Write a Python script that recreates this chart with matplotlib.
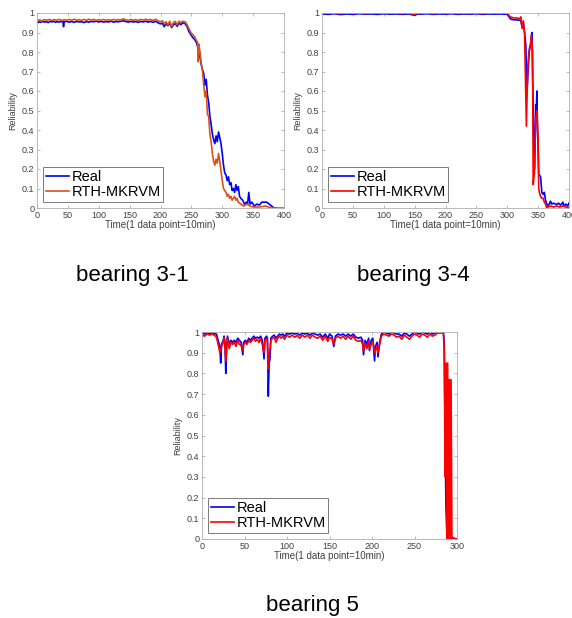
import numpy as np
import matplotlib
matplotlib.use('Agg')
import matplotlib.pyplot as plt

plt.rcParams['font.family'] = ['Liberation Sans', 'DejaVu Sans']

# bearing 3-1: (time, reliability)
real_31 = [(0,0.948),(3,0.955),(6,0.952),(9,0.957),(12,0.953),(15,0.956),(18,0.951),(21,0.957),(24,0.954),(27,0.958),
    (30,0.952),(33,0.956),(36,0.953),(39,0.957),(42,0.954),(43,0.93),(44,0.955),(48,0.957),(52,0.953),(56,0.956),
    (60,0.952),(64,0.957),(68,0.954),(72,0.955),(76,0.951),(80,0.956),(84,0.953),(88,0.957),(92,0.955),(96,0.958),
    (100,0.954),(104,0.957),(108,0.953),(112,0.956),(116,0.954),(120,0.958),(124,0.953),(128,0.956),(132,0.955),(136,0.958),
    (140,0.96),(144,0.956),(148,0.953),(152,0.957),(156,0.954),(160,0.956),(164,0.952),(168,0.957),(172,0.954),(176,0.958),
    (180,0.953),(184,0.957),(188,0.952),(192,0.958),(196,0.95),(200,0.944),(203,0.948),(206,0.93),(209,0.945),(212,0.935),
    (215,0.948),(218,0.925),(221,0.94),(224,0.946),(227,0.932),(230,0.948),(233,0.94),(236,0.95),(240,0.945),(243,0.93),
    (246,0.905),(249,0.89),(252,0.875),(255,0.865),(258,0.85),(261,0.82),(264,0.77),(267,0.72),(270,0.69),(272,0.63),
    (274,0.66),(276,0.58),(278,0.54),(280,0.47),(282,0.43),(284,0.38),(286,0.35),(288,0.33),(290,0.37),(292,0.34),
    (294,0.39),(296,0.36),(298,0.33),(300,0.28),(302,0.22),(304,0.18),(306,0.17),(308,0.14),(310,0.16),(312,0.12),
    (314,0.13),(316,0.09),(318,0.1),(320,0.08),(322,0.12),(324,0.09),(326,0.11),(328,0.06),(330,0.05),(333,0.04),
    (336,0.02),(339,0.03),(341,0.02),(343,0.08),(345,0.02),(348,0.03),(352,0.01),(356,0.02),(360,0.015),(364,0.03),
    (368,0.03),(372,0.03),(376,0.02),(380,0.01),(384,0.0),(388,0.0)]
pred_31 = [(0,0.962),(4,0.965),(8,0.96),(12,0.966),(16,0.963),(20,0.967),(24,0.962),(28,0.966),(32,0.963),(36,0.967),
    (40,0.962),(44,0.966),(48,0.963),(52,0.967),(56,0.962),(60,0.968),(64,0.963),(68,0.966),(72,0.962),(76,0.967),
    (80,0.963),(84,0.968),(88,0.964),(92,0.967),(96,0.962),(100,0.966),(104,0.963),(108,0.967),(112,0.962),(116,0.966),
    (120,0.963),(124,0.967),(128,0.963),(132,0.966),(136,0.964),(140,0.97),(144,0.965),(148,0.962),(152,0.967),(156,0.963),
    (160,0.966),(164,0.962),(168,0.967),(172,0.964),(176,0.968),(180,0.963),(184,0.967),(188,0.962),(192,0.968),(196,0.96),
    (200,0.955),(203,0.96),(206,0.945),(209,0.955),(212,0.94),(215,0.958),(218,0.93),(221,0.952),(224,0.957),(227,0.94),
    (230,0.958),(233,0.95),(236,0.958),(240,0.955),(243,0.94),(246,0.92),(249,0.9),(252,0.89),(255,0.88),(258,0.86),
    (260,0.85),(261,0.75),(262,0.84),(264,0.8),(266,0.74),(268,0.7),(270,0.63),(272,0.57),(274,0.6),(276,0.48),
    (278,0.47),(280,0.38),(282,0.34),(284,0.28),(286,0.24),(288,0.22),(290,0.25),(292,0.23),(294,0.28),(296,0.24),
    (298,0.19),(300,0.14),(302,0.1),(304,0.09),(306,0.08),(308,0.06),(310,0.07),(312,0.05),(314,0.06),(316,0.04),
    (318,0.05),(320,0.06),(322,0.04),(324,0.05),(326,0.03),(330,0.02),(335,0.01),(340,0.02),(345,0.01),(350,0.005),
    (360,0.005),(370,0.01),(380,0.0),(390,0.0),(400,0.0)]

# bearing 3-4
real_34 = [(0,0.995),(10,0.993),(20,0.996),(30,0.992),(40,0.995),(50,0.993),(60,0.996),(70,0.994),(80,0.995),(90,0.993),
    (100,0.996),(110,0.994),(120,0.995),(130,0.993),(140,0.995),(150,0.988),(155,0.995),(160,0.994),(170,0.996),(180,0.993),
    (190,0.995),(200,0.994),(210,0.996),(220,0.993),(230,0.995),(240,0.994),(250,0.996),(260,0.993),(270,0.995),(280,0.994),
    (290,0.995),(300,0.993),(302,0.985),(305,0.97),(310,0.965),(315,0.965),(320,0.963),(322,0.96),(324,0.93),(326,0.95),
    (328,0.9),(330,0.84),(332,0.6),(334,0.72),(336,0.82),(338,0.84),(340,0.9),(342,0.5),(344,0.2),(345,0.3),
    (346,0.53),(347,0.48),(348,0.6),(349,0.4),(350,0.3),(351,0.17),(352,0.17),(354,0.16),(356,0.08),(358,0.07),
    (360,0.08),(362,0.04),(364,0.02),(366,0.01),(368,0.02),(370,0.035),(372,0.02),(375,0.025),(378,0.02),(380,0.018),
    (383,0.025),(386,0.015),(388,0.02),(390,0.03),(392,0.01),(395,0.02),(398,0.01),(400,0.025)]
pred_34 = [(0,1.0),(10,0.998),(20,1.0),(30,0.997),(40,1.0),(50,0.998),(60,1.0),(70,0.997),(80,1.0),(90,0.998),
    (100,1.0),(110,0.998),(120,1.0),(130,0.997),(140,1.0),(150,0.992),(155,1.0),(160,0.998),(170,1.0),(180,0.997),
    (190,1.0),(200,0.998),(210,1.0),(220,0.997),(230,1.0),(240,0.998),(250,1.0),(260,0.997),(270,1.0),(280,0.998),
    (290,1.0),(300,0.998),(302,0.99),(305,0.98),(310,0.975),(315,0.975),(320,0.97),(322,0.98),(324,0.92),(326,0.96),
    (328,0.9),(331,0.42),(333,0.7),(335,0.8),(337,0.82),(339,0.89),(341,0.8),(342,0.12),(344,0.18),(346,0.45),
    (348,0.5),(350,0.35),(351,0.1),(352,0.08),(354,0.06),(356,0.05),(358,0.05),(360,0.03),(362,0.02),(364,0.0),
    (366,0.005),(370,0.01),(375,0.005),(380,0.01),(385,0.005),(390,0.01),(395,0.005),(400,0.0)]

# bearing 5
real_5 = [(0,0.995),(3,0.99),(6,0.997),(9,0.993),(12,0.996),(15,0.992),(17,0.99),(19,0.96),(21,0.93),(22,0.85),
    (23,0.94),(25,0.96),(26,0.98),(27,0.95),(28,0.8),(29,0.93),(30,0.98),(32,0.94),(34,0.96),(36,0.95),
    (38,0.96),(40,0.95),(42,0.97),(44,0.96),(46,0.95),(48,0.89),(49,0.95),(51,0.96),(53,0.95),(55,0.97),
    (57,0.96),(59,0.97),(61,0.98),(63,0.97),(65,0.975),(67,0.97),(69,0.98),(71,0.96),(73,0.87),(74,0.97),
    (76,0.98),(77,0.97),(78,0.69),(79,0.85),(80,0.87),(81,0.97),(83,0.98),(85,0.985),(87,0.97),(89,0.98),
    (91,0.99),(93,0.985),(95,0.99),(97,0.98),(100,0.995),(103,0.99),(106,0.995),(109,0.99),(112,0.993),(115,0.985),
    (118,0.995),(121,0.99),(124,0.995),(127,0.985),(130,0.995),(133,0.99),(136,0.985),(139,0.99),(142,0.975),(145,0.99),
    (148,0.97),(150,0.99),(153,0.98),(155,0.93),(157,0.98),(160,0.99),(163,0.985),(166,0.99),(169,0.98),(172,0.99),
    (175,0.98),(178,0.99),(181,0.975),(184,0.97),(187,0.975),(189,0.96),(190,0.89),(192,0.96),(194,0.94),(196,0.97),
    (197,0.91),(199,0.96),(201,0.97),(203,0.86),(204,0.93),(206,0.95),(207,0.88),(209,0.95),(211,0.99),(214,1.0),
    (217,0.995),(220,0.99),(223,1.0),(226,0.995),(229,0.99),(232,0.99),(235,0.98),(238,0.995),(241,0.99),(244,0.98),
    (247,0.99),(250,1.0),(253,0.995),(256,0.99),(259,1.0),(262,0.995),(265,0.99),(268,1.0),(271,0.99),(274,0.995),
    (277,1.0),(280,1.0),(284,1.0),(285,0.95),(286,0.5),(287,0.16),(288,0.04),(289,0.02),(291,0.01),(295,0.0),(300,0.0)]
pred_5 = [(0,0.985),(3,0.98),(6,0.99),(9,0.985),(12,0.99),(15,0.983),(17,0.975),(19,0.94),(21,0.9),(22,0.91),
    (23,0.93),(25,0.95),(26,0.975),(27,0.93),(28,0.86),(29,0.92),(30,0.97),(32,0.92),(34,0.95),(36,0.94),
    (38,0.95),(40,0.93),(42,0.96),(44,0.94),(46,0.935),(48,0.91),(49,0.94),(51,0.95),(53,0.94),(55,0.96),
    (57,0.95),(59,0.96),(61,0.97),(63,0.955),(65,0.965),(67,0.95),(69,0.97),(71,0.94),(73,0.9),(74,0.96),
    (76,0.97),(77,0.95),(78,0.82),(79,0.88),(80,0.92),(81,0.96),(83,0.97),(85,0.975),(87,0.95),(89,0.97),
    (91,0.98),(93,0.97),(95,0.98),(97,0.965),(100,0.985),(103,0.975),(106,0.985),(109,0.975),(112,0.983),(115,0.97),
    (118,0.985),(121,0.975),(124,0.985),(127,0.97),(130,0.985),(133,0.975),(136,0.97),(139,0.98),(142,0.96),(145,0.98),
    (148,0.955),(150,0.975),(153,0.965),(155,0.94),(157,0.97),(160,0.98),(163,0.97),(166,0.98),(169,0.965),(172,0.98),
    (175,0.965),(178,0.98),(181,0.96),(184,0.955),(187,0.96),(189,0.94),(190,0.91),(192,0.945),(194,0.92),(196,0.955),
    (197,0.92),(199,0.94),(201,0.955),(203,0.9),(204,0.91),(206,0.935),(207,0.9),(209,0.94),(211,0.98),(214,0.99),
    (217,0.985),(220,0.98),(223,0.99),(226,0.985),(229,0.975),(232,0.98),(235,0.965),(238,0.985),(241,0.975),(244,0.965),
    (247,0.98),(250,0.99),(253,0.985),(256,0.975),(259,0.99),(262,0.985),(265,0.975),(268,0.99),(271,0.98),(274,0.985),
    (277,0.995),(280,0.995),(284,0.995),(285,0.9),(286,0.3),(287,0.85),(288,0.0),(289,0.85),(290,0.0),(291,0.77),
    (292,0.0),(293,0.77),(294,0.01),(296,0.005),(300,0.0)]

titles = ['bearing 3-1', 'bearing 3-4', 'bearing 5']
legend_labels = ['Real', 'RTH-MKRVM']


def panel(fig, rect, real, pred, pred_color, xmax):
    ax = fig.add_axes(rect)
    r = np.array(real)
    p = np.array(pred)
    ax.plot(r[:, 0], r[:, 1], color='#0000FF', lw=1.2, label=legend_labels[0])
    ax.plot(p[:, 0], p[:, 1], color=pred_color, lw=1.2, label=legend_labels[1])
    ax.set_xlim(0, xmax)
    ax.set_ylim(0, 1)
    ax.set_xticks(np.arange(0, xmax + 1, 50))
    ax.set_yticks(np.arange(0, 1.01, 0.1))
    ax.set_yticklabels(['0'] + ['%.1f' % v for v in np.arange(0.1, 0.95, 0.1)] + ['1'])
    ax.tick_params(direction='in', length=2, width=0.5, top=True, right=True,
                   labelsize=6.5, colors='#a0a0a0', labelcolor='#404040', pad=2)
    for s in ax.spines.values():
        s.set_color('#b0b0b0')
        s.set_linewidth(0.6)
    ax.set_xlabel('Time(1 data point=10min)', fontsize=7, color='#404040', labelpad=0)
    ax.set_ylabel('Reliability', fontsize=6.5, color='#404040', labelpad=3)
    leg = ax.legend(loc='lower left', fontsize=10.5, fancybox=False, handlelength=1.6,
                    handletextpad=0.15, borderpad=0.2, labelspacing=0.1, borderaxespad=0.4)
    leg.get_frame().set_edgecolor('#404040')
    leg.get_frame().set_linewidth(0.6)
    return ax


W, H = 572, 618
fig = plt.figure(figsize=(W / 100, H / 100), dpi=100)
panel(fig, [37 / W, 1 - 208 / H, 247 / W, 195 / H], real_31, pred_31, '#D95319', 400)
panel(fig, [322 / W, 1 - 208 / H, 247 / W, 195 / H], real_34, pred_34, '#FF0000', 400)
panel(fig, [202 / W, 1 - 539 / H, 255 / W, 207 / H], real_5, pred_5, '#FF0000', 300)

fig.text(132 / W, 1 - 275 / H, titles[0], fontsize=16, ha='center', va='center')
fig.text(413 / W, 1 - 275 / H, titles[1], fontsize=16, ha='center', va='center')
fig.text(312 / W, 1 - 605 / H, titles[2], fontsize=16, ha='center', va='center')

fig.savefig('out.png', dpi=100)
